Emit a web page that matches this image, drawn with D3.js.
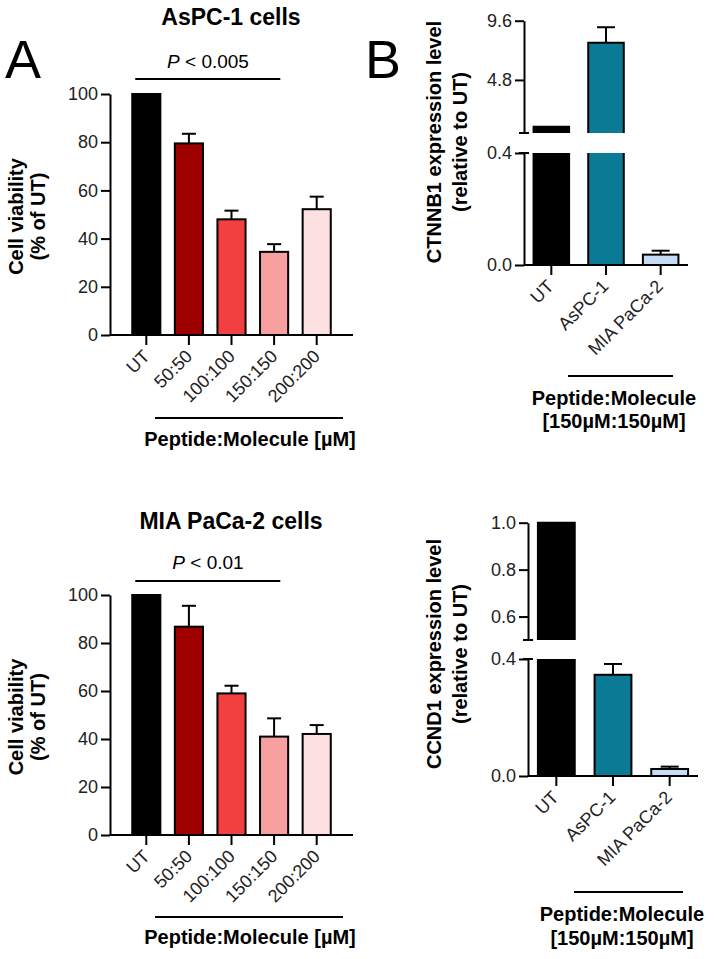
<!DOCTYPE html>
<html><head><meta charset="utf-8">
<script src="https://cdn.jsdelivr.net/npm/d3@7"></script>
<style>
body{margin:0;background:#fff}
text{font-family:"Liberation Sans",Arial,Helvetica,sans-serif}
</style>
</head><body>
<svg id="c" width="718" height="959"></svg>
<script>
// ---------------- DATA ----------------
const viabilityCats = ["UT", "50:50", "100:100", "150:150", "200:200"];
const viabilityColors = ["#000000", "#9e0000", "#f23f3f", "#f8a0a0", "#fde0e0"];
const viabilityTicks = [0, 20, 40, 60, 80, 100];
const aspcViability = [100, 79.5, 48, 34.5, 52.2];
const aspcViabilityErr = [0, 4, 3.6, 3.2, 5.2];
const miaViability = [100, 86.8, 59, 41, 42.1];
const miaViabilityErr = [0, 8.7, 3.2, 7.6, 3.7];

const exprCats = ["UT", "AsPC-1", "MIA PaCa-2"];
const exprColors = ["#000000", "#0b7a94", "#c6dcf4"];
const ctnnb1 = [1.0, 7.82, 0.037];
const ctnnb1Err = [0, 1.25, 0.014];
const ctnnb1UpperTicks = [4.8, 9.6];
const ctnnb1LowerTicks = [0.0, 0.4];
const ccnd1 = [1.0, 0.346, 0.024];
const ccnd1Err = [0, 0.037, 0.008];
const ccnd1UpperTicks = [0.6, 0.8, 1.0];
const ccnd1LowerTicks = [0.0, 0.4];

// ---------------- DRAWING ----------------
const svg = d3.select("#c");
const LW = 2;
const TICK_FS = 18, BOLD_FS = 20;

function styleAxis(sel) {
  sel.selectAll("path,line").attr("stroke", "#000").attr("stroke-width", LW);
  sel.selectAll("text").attr("font-size", TICK_FS).attr("fill", "#222");
}

function rotLabels(sel, cats, x, yTickEnd, dxOff) {
  sel.selectAll(null).data(cats).join("text")
    .attr("transform", d => `translate(${x(d) + x.bandwidth() / 2 + dxOff},${yTickEnd + 8}) rotate(-45)`)
    .attr("text-anchor", "end").attr("dy", "0.35em")
    .attr("font-size", TICK_FS).attr("fill", "#222").text(d => d);
}

function yLabel(g, lines, xs, cy) {
  lines.forEach((t, i) => {
    g.append("text").attr("transform", `translate(${xs[i]},${cy}) rotate(-90)`)
      .attr("text-anchor", "middle").attr("dy", "0.35em")
      .attr("font-size", BOLD_FS).attr("font-weight", "bold").text(t);
  });
}

function viability(o) {
  const g = svg.append("g");
  const x = d3.scaleBand().domain(viabilityCats).range([125, 338]).paddingInner(0.34).paddingOuter(0.17);
  const y = d3.scaleLinear().domain([0, 100]).range([o.y0, o.y100]);
  const axX = 110;
  // title
  g.append("text").attr("x", 231).attr("y", o.titleY).attr("text-anchor", "middle")
    .attr("font-size", 23).attr("font-weight", "bold").text(o.title);
  // P value
  const pt = g.append("text").attr("x", 208).attr("y", o.pY).attr("text-anchor", "middle").attr("font-size", 19);
  pt.append("tspan").attr("font-style", "italic").text("P");
  pt.append("tspan").text(" < " + o.p);
  g.append("line").attr("x1", x("UT") + 3).attr("x2", x("150:150") + x.bandwidth() * 0.72)
    .attr("y1", o.sigY).attr("y2", o.sigY).attr("stroke", "#000").attr("stroke-width", LW);
  // bars
  g.selectAll(null).data(o.vals).join("rect")
    .attr("x", (d, i) => x(viabilityCats[i])).attr("width", x.bandwidth())
    .attr("y", d => y(d)).attr("height", d => y(0) - y(d))
    .attr("fill", (d, i) => viabilityColors[i]).attr("stroke", "#000").attr("stroke-width", LW);
  // error bars
  o.vals.forEach((v, i) => {
    const e = o.errs[i]; if (!e) return;
    const cx = x(viabilityCats[i]) + x.bandwidth() / 2;
    g.append("line").attr("x1", cx).attr("x2", cx).attr("y1", y(v)).attr("y2", y(v + e)).attr("stroke", "#000").attr("stroke-width", LW);
    g.append("line").attr("x1", cx - 7).attr("x2", cx + 7).attr("y1", y(v + e)).attr("y2", y(v + e)).attr("stroke", "#000").attr("stroke-width", LW);
  });
  // y axis
  const ya = g.append("g").attr("transform", `translate(${axX},0)`)
    .call(d3.axisLeft(y).tickValues(viabilityTicks).tickSize(9).tickSizeOuter(0).tickPadding(3));
  styleAxis(ya);
  // x axis
  g.append("line").attr("x1", axX).attr("x2", 353).attr("y1", y(0)).attr("y2", y(0)).attr("stroke", "#000").attr("stroke-width", LW);
  g.selectAll(null).data(viabilityCats).join("line")
    .attr("x1", d => x(d) + x.bandwidth() / 2).attr("x2", d => x(d) + x.bandwidth() / 2)
    .attr("y1", y(0)).attr("y2", y(0) + 10).attr("stroke", "#000").attr("stroke-width", LW);
  rotLabels(g, viabilityCats, x, y(0) + 10, 0);
  // group
  g.append("line").attr("x1", 155).attr("x2", 343).attr("y1", o.grpY).attr("y2", o.grpY).attr("stroke", "#000").attr("stroke-width", LW);
  g.append("text").attr("x", 250).attr("y", o.grpTextY).attr("text-anchor", "middle")
    .attr("font-size", BOLD_FS).attr("font-weight", "bold").text("Peptide:Molecule [\u00b5M]");
  yLabel(g, ["Cell viability", "(% of UT)"], [16, 38], (o.y0 + o.y100) / 2 + 2);
}

function expression(o) {
  const g = svg.append("g");
  const x = d3.scaleBand().domain(exprCats).range(o.xr).paddingInner(0.35).paddingOuter(0.175);
  const yL = d3.scaleLinear().domain([0, 0.4]).range(o.lowR);
  const yU = d3.scaleLinear().domain(o.upD).range(o.upR);
  const axX = o.xr[0];
  const fmt = d3.format(".1f");
  const stroke = s => s.attr("stroke", "#000").attr("stroke-width", LW).attr("fill", "none");
  o.vals.forEach((v, i) => {
    const x0 = x(exprCats[i]), x1 = x0 + x.bandwidth();
    const col = exprColors[i];
    const lowTop = Math.min(v, 0.4);
    g.append("rect").attr("x", x0).attr("width", x.bandwidth()).attr("y", yL(lowTop)).attr("height", yL(0) - yL(lowTop)).attr("fill", col);
    if (v <= 0.4) {
      g.append("rect").attr("x", x0).attr("width", x.bandwidth()).attr("y", yL(v)).attr("height", yL(0) - yL(v)).call(stroke);
    } else {
      g.append("path").attr("d", `M${x0},${yL(0.4)}V${yL(0)}H${x1}V${yL(0.4)}`).call(stroke);
      g.append("rect").attr("x", x0).attr("width", x.bandwidth()).attr("y", yU(v)).attr("height", yU(o.upD[0]) - yU(v)).attr("fill", col);
      g.append("path").attr("d", `M${x0},${yU(o.upD[0])}V${yU(v)}H${x1}V${yU(o.upD[0])}`).call(stroke);
    }
    const e = o.errs[i];
    if (e) {
      const sc = v <= 0.4 ? yL : yU;
      const cx = (x0 + x1) / 2;
      g.append("line").attr("x1", cx).attr("x2", cx).attr("y1", sc(v)).attr("y2", sc(v + e)).call(stroke);
      g.append("line").attr("x1", cx - 9).attr("x2", cx + 9).attr("y1", sc(v + e)).attr("y2", sc(v + e)).call(stroke);
    }
  });
  // y axes (broken)
  const aU = g.append("g").attr("transform", `translate(${axX},0)`)
    .call(d3.axisLeft(yU).tickValues(o.upT).tickFormat(fmt).tickSize(9).tickSizeOuter(0).tickPadding(3));
  styleAxis(aU);
  const aL = g.append("g").attr("transform", `translate(${axX},0)`)
    .call(d3.axisLeft(yL).tickValues(o.lowT).tickFormat(fmt).tickSize(9).tickSizeOuter(0).tickPadding(3));
  styleAxis(aL);
  g.append("line").attr("x1", axX - 5).attr("x2", axX + 5).attr("y1", yU(o.upD[0])).attr("y2", yU(o.upD[0])).call(stroke);
  g.append("line").attr("x1", axX - 5).attr("x2", axX + 5).attr("y1", yL(0.4)).attr("y2", yL(0.4)).call(stroke);
  // x axis
  g.append("line").attr("x1", axX).attr("x2", o.xr[1]).attr("y1", yL(0)).attr("y2", yL(0)).call(stroke);
  g.selectAll(null).data(exprCats).join("line")
    .attr("x1", d => x(d) + x.bandwidth() / 2).attr("x2", d => x(d) + x.bandwidth() / 2)
    .attr("y1", yL(0)).attr("y2", yL(0) + 10).attr("stroke", "#000").attr("stroke-width", LW);
  rotLabels(g, exprCats, x, yL(0) + 10, -1);
  // group
  g.append("line").attr("x1", o.grpX[0]).attr("x2", o.grpX[1]).attr("y1", o.grpY).attr("y2", o.grpY).call(stroke);
  g.append("text").attr("x", o.grpCx).attr("y", o.grpT[0]).attr("text-anchor", "middle")
    .attr("font-size", BOLD_FS).attr("font-weight", "bold").text("Peptide:Molecule");
  g.append("text").attr("x", o.grpCx).attr("y", o.grpT[1]).attr("text-anchor", "middle")
    .attr("font-size", BOLD_FS).attr("font-weight", "bold").text("[150\u00b5M:150\u00b5M]");
  yLabel(g, [o.label, "(relative to UT)"], [434, 460], o.labelCy);
}

viability({ title: "AsPC-1 cells", p: "0.005", vals: aspcViability, errs: aspcViabilityErr,
  y0: 335, y100: 94, titleY: 25, pY: 68, sigY: 79, grpY: 418, grpTextY: 446 });
viability({ title: "MIA PaCa-2 cells", p: "0.01", vals: miaViability, errs: miaViabilityErr,
  y0: 835, y100: 595, titleY: 529, pY: 569, sigY: 581, grpY: 917, grpTextY: 944 });

expression({ label: "CTNNB1 expression level", vals: ctnnb1, errs: ctnnb1Err,
  xr: [524, 688], lowR: [265, 153], upD: [0.5, 9.6], upR: [133, 20.7], upT: ctnnb1UpperTicks, lowT: ctnnb1LowerTicks,
  grpX: [568, 673], grpY: 376, grpCx: 614, grpT: [405, 428], labelCy: 142 });
expression({ label: "CCND1 expression level", vals: ccnd1, errs: ccnd1Err,
  xr: [528, 698], lowR: [776, 659], upD: [0.5, 1.0], upR: [640, 522.7], upT: ccnd1UpperTicks, lowT: ccnd1LowerTicks,
  grpX: [574, 683], grpY: 892, grpCx: 622, grpT: [921, 945], labelCy: 654 });

// panel letters
svg.append("text").attr("x", 5).attr("y", 78).attr("font-size", 54).text("A");
svg.append("text").attr("x", 365).attr("y", 78).attr("font-size", 54).text("B");
</script>
</body></html>
